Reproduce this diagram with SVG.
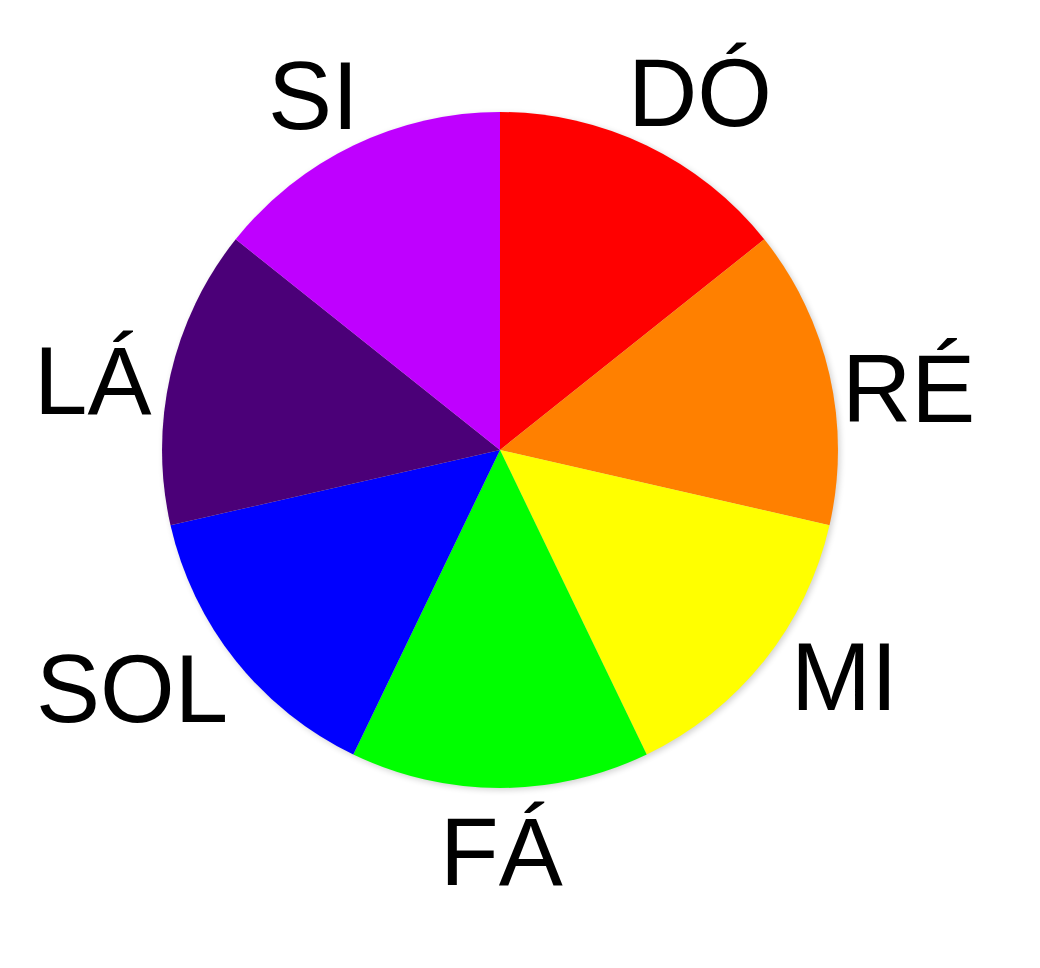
<svg xmlns="http://www.w3.org/2000/svg" width="1040" height="968" viewBox="0 0 1040 968">
<style>
.lbl{font-family:"Liberation Sans",Arial,sans-serif;font-size:96px;fill:#000}
</style>
<defs>
<filter id="sh" x="-10%" y="-10%" width="120%" height="120%"><feGaussianBlur stdDeviation="3"/></filter>
</defs>
<rect width="1040" height="968" fill="#fff"/>
<circle cx="502" cy="452" r="338" fill="#000" opacity="0.18" filter="url(#sh)"/>
<g id="slices">
<path id="do" d="M500,450 L500,112 A338,338 0 0 1 764.3,239.3 Z" fill="#ff0000"/>
<path id="re" d="M500,450 L764.3,239.3 A338,338 0 0 1 829.5,525.2 Z" fill="#ff8000"/>
<path id="mi" d="M500,450 L829.5,525.2 A338,338 0 0 1 646.7,754.5 Z" fill="#ffff00"/>
<path id="fa" d="M500,450 L646.7,754.5 A338,338 0 0 1 353.3,754.5 Z" fill="#00ff00"/>
<path id="sol" d="M500,450 L353.3,754.5 A338,338 0 0 1 170.5,525.2 Z" fill="#0000ff"/>
<path id="la" d="M500,450 L170.5,525.2 A338,338 0 0 1 235.7,239.3 Z" fill="#4b0078"/>
<path id="si" d="M500,450 L235.7,239.3 A338,338 0 0 1 500,112 Z" fill="#bf00ff"/>
</g>
<g id="labels">
<text class="lbl" x="268" y="129">SI</text>
<text class="lbl" x="628" y="126">DÓ</text>
<text class="lbl" x="842" y="422">RÉ</text>
<text class="lbl" x="34" y="414">LÁ</text>
<text class="lbl" x="36" y="722">SOL</text>
<text class="lbl" x="440" y="885">FÁ</text>
<text class="lbl" x="791" y="710">MI</text>
</g>
</svg>
